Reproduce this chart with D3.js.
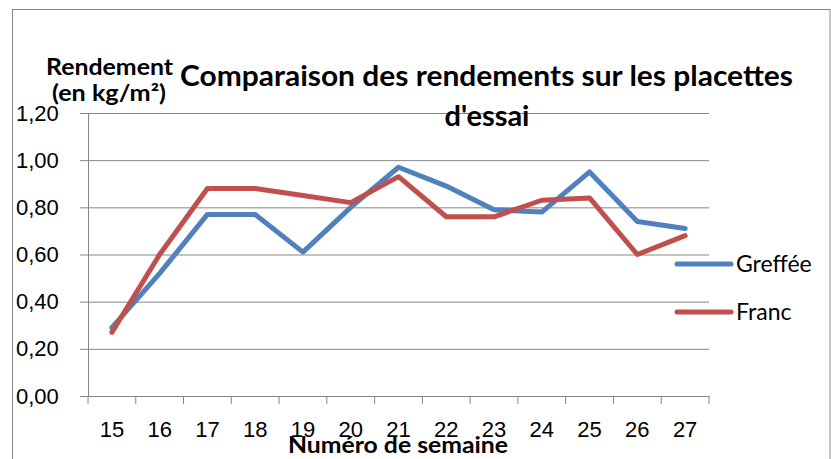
<!DOCTYPE html>
<html>
<head>
<meta charset="utf-8">
<script src="https://cdn.jsdelivr.net/npm/d3@7"></script>
<style>
  body { margin: 0; background: #fff; }
  svg { display: block; font-family: Lato, "Open Sans", sans-serif; }
</style>
</head>
<body>
<div id="chart"></div>
<script>
const weeks = ["15", "16", "17", "18", "19", "20", "21", "22", "23", "24", "25", "26", "27"];
const greffee = [0.29, 0.52, 0.77, 0.77, 0.61, 0.80, 0.97, 0.89, 0.79, 0.78, 0.95, 0.74, 0.71];
const franc = [0.27, 0.60, 0.88, 0.88, 0.85, 0.82, 0.93, 0.76, 0.76, 0.83, 0.84, 0.60, 0.68];
const yTicks = [0, 0.2, 0.4, 0.6, 0.8, 1.0, 1.2];

const series = [
  { name: "Greffée", values: greffee, color: "#4f81bd" },
  { name: "Franc", values: franc, color: "#c0504d" }
];

const width = 831, height = 459;
const plot = { left: 88, right: 709, top: 113, bottom: 396 };
const grid = "#868686";

const svg = d3.select("#chart")
  .append("svg")
  .attr("width", width)
  .attr("height", height)
  .attr("viewBox", [0, 0, width, height]);

// chart border
svg.append("rect")
  .attr("x", 12.5).attr("y", 9.5)
  .attr("width", 830 - 12.5).attr("height", 470)
  .attr("fill", "none")
  .attr("stroke", grid)
  .attr("stroke-width", 1);

const x = d3.scaleBand()
  .domain(weeks)
  .range([plot.left, plot.right]);

const y = d3.scaleLinear()
  .domain([0, 1.2])
  .range([plot.bottom, plot.top]);

const fmt = d => d3.format(".2f")(d).replace(".", ",");

// y axis with grid lines
svg.append("g")
  .attr("transform", `translate(${plot.left},0)`)
  .call(d3.axisLeft(y).tickValues(yTicks).tickFormat(fmt).tickSize(8))
  .call(g => g.select(".domain").attr("stroke", grid))
  .call(g => g.selectAll(".tick line").attr("stroke", grid))
  .call(g => g.selectAll(".tick line").clone()
      .attr("x2", plot.right - plot.left))
  .call(g => g.selectAll(".tick text")
      .attr("fill", "#000")
      .attr("font-size", 22)
      .attr("text-anchor", "start")
      .attr("x", 16 - plot.left));

// x axis, ticks at category boundaries
svg.append("g")
  .attr("transform", `translate(0,${plot.bottom})`)
  .call(d3.axisBottom(x).tickSize(0).tickPadding(25))
  .call(g => g.select(".domain").attr("stroke", grid))
  .call(g => g.selectAll(".tick text").attr("fill", "#000").attr("font-size", 22))
  .call(g => g.selectAll(".bound")
      .data(weeks.concat([null]))
      .join("line")
      .attr("class", "bound")
      .attr("x1", (d, i) => plot.left + i * x.bandwidth())
      .attr("x2", (d, i) => plot.left + i * x.bandwidth())
      .attr("y1", 0).attr("y2", 8)
      .attr("stroke", grid));

const line = d3.line()
  .x((d, i) => x(weeks[i]) + x.bandwidth() / 2)
  .y(d => y(d));

svg.selectAll(".serie")
  .data(series)
  .join("path")
  .attr("class", "serie")
  .attr("fill", "none")
  .attr("stroke", d => d.color)
  .attr("stroke-width", 5)
  .attr("stroke-linejoin", "round")
  .attr("stroke-linecap", "round")
  .attr("d", d => line(d.values));

// legend
const legend = svg.selectAll(".legend")
  .data(series)
  .join("g")
  .attr("class", "legend")
  .attr("transform", (d, i) => `translate(677,${264 + i * 48})`);

legend.append("line")
  .attr("x1", 0).attr("x2", 54)
  .attr("stroke", d => d.color)
  .attr("stroke-width", 5)
  .attr("stroke-linecap", "round");

legend.append("text")
  .attr("x", 59).attr("y", 8)
  .attr("font-size", 23)
  .text(d => d.name);

// titles
svg.append("text")
  .attr("x", 180).attr("y", 86)
  .attr("font-size", 29)
  .attr("font-weight", "bold")
  .attr("textLength", 613)
  .attr("lengthAdjust", "spacingAndGlyphs")
  .text("Comparaison des rendements sur les placettes");

svg.append("text")
  .attr("x", 487).attr("y", 126)
  .attr("text-anchor", "middle")
  .attr("font-size", 29)
  .attr("font-weight", "bold")
  .text("d'essai");

svg.append("text")
  .attr("x", 46).attr("y", 75)
  .attr("font-size", 22)
  .attr("font-weight", "bold")
  .attr("textLength", 127)
  .attr("lengthAdjust", "spacingAndGlyphs")
  .text("Rendement");

svg.append("text")
  .attr("x", 52).attr("y", 101)
  .attr("font-size", 22)
  .attr("font-weight", "bold")
  .attr("textLength", 114)
  .attr("lengthAdjust", "spacingAndGlyphs")
  .text("(en kg/m²)");

svg.append("text")
  .attr("x", 288).attr("y", 453)
  .attr("font-size", 22)
  .attr("font-weight", "bold")
  .attr("textLength", 220)
  .attr("lengthAdjust", "spacingAndGlyphs")
  .text("Numéro de semaine");
</script>
</body>
</html>
